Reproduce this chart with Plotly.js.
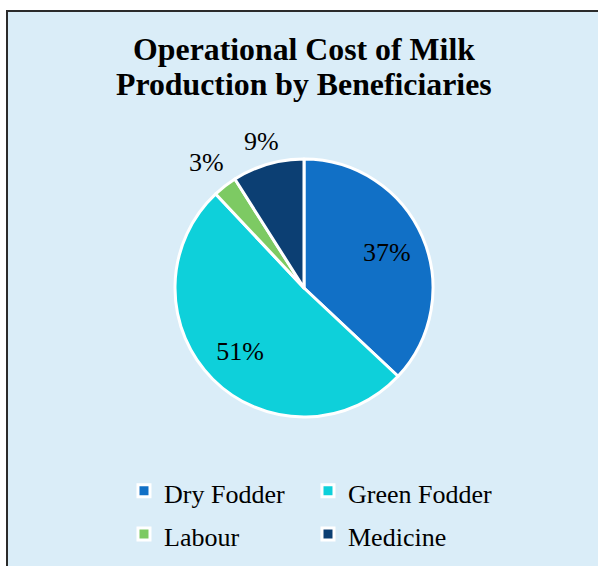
<!DOCTYPE html>
<html><head><meta charset="utf-8">
<script src="https://cdn.plot.ly/plotly-3.0.1.min.js"></script>
<style>
html,body{margin:0;padding:0;background:#ffffff;}
#frame{position:absolute;left:6px;top:10px;width:620px;height:620px;border:2px solid #2b2b2b;background:#DAEDF8;}
#chart{position:absolute;left:0;top:0;width:598px;height:566px;}
</style></head>
<body>
<div id="frame"></div>
<div id="chart"></div>
<script>
const categories = ["Dry Fodder", "Green Fodder", "Labour", "Medicine"];
const shares = [37, 51, 3, 9];
const colors = ["#1170C6", "#0ED0DA", "#7DCA63", "#0C3F73"];
const outsideLabel = [false, false, true, true];

const FONT = "Liberation Serif, Times New Roman, serif";
const W = 598, H = 566, ML = 100, MR = 100;
const plotW = W - ML - MR, plotH = H;
const domain = {x: [0.1884, 0.8367], y: [0.2633, 0.7191]};

// main pie: slices and legend
const mainPie = {
  type: "pie",
  labels: categories.map(c => '<span style="font-size:26px">' + c + '</span>'),
  values: shares,
  sort: false,
  direction: "clockwise",
  rotation: 0,
  marker: {colors: colors, line: {color: "#ffffff", width: 3}},
  textinfo: "none",
  domain: domain,
  hoverinfo: "skip"
};

// transparent ring overlay: places the inside labels at mid-ring radius
const labelRing = {
  type: "pie",
  labels: categories,
  values: shares,
  sort: false,
  direction: "clockwise",
  rotation: 0,
  hole: 0.4,
  showlegend: false,
  marker: {colors: categories.map(() => "rgba(0,0,0,0)"), line: {width: 0}},
  texttemplate: "%{percent:.0%}",
  textposition: outsideLabel.map(o => o ? "none" : "inside"),
  insidetextorientation: "horizontal",
  textfont: {family: FONT, size: 26, color: "#000000"},
  domain: domain,
  hoverinfo: "skip"
};

// outside labels for the small slices, placed from each slice's mid-angle
const total = shares.reduce((a, b) => a + b, 0);
const cxPx = ML + plotW * (domain.x[0] + domain.x[1]) / 2;
const cyPx = H - plotH * (domain.y[0] + domain.y[1]) / 2;
const R = Math.min(plotW * (domain.x[1] - domain.x[0]), plotH * (domain.y[1] - domain.y[0])) / 2;
const outsideAnnotations = [];
let cum = 0;
shares.forEach((v, i) => {
  const mid = (cum + v / 2) / total * 2 * Math.PI;
  cum += v;
  if (!outsideLabel[i]) return;
  const sx = Math.sin(mid), sy = -Math.cos(mid);
  const dist = R + 6 + 24 * Math.abs(sx) + 11 * Math.abs(sy);
  const px = cxPx + dist * sx, py = cyPx + dist * sy;
  outsideAnnotations.push({
    text: Math.round(v / total * 100) + "%",
    xref: "paper", yref: "paper",
    x: (px - ML) / plotW, y: 1 - py / plotH,
    xanchor: "center", yanchor: "middle", showarrow: false,
    font: {family: FONT, size: 26, color: "#000000"}
  });
});

const layout = {
  width: W, height: H,
  margin: {l: ML, r: MR, t: 0, b: 0},
  paper_bgcolor: "rgba(0,0,0,0)",
  plot_bgcolor: "rgba(0,0,0,0)",
  font: {family: FONT, color: "#000000"},
  title: {
    text: "<b>Operational Cost of Milk</b>",
    font: {family: FONT, size: 31.8, color: "#000000"},
    x: 0.5084, xanchor: "center", y: 0.9134, yanchor: "middle"
  },
  annotations: [{
    text: "<b>Production by Beneficiaries</b>",
    font: {family: FONT, size: 31.8, color: "#000000"},
    xref: "paper", yref: "paper", x: (304 - ML) / plotW, y: 0.8499,
    xanchor: "center", yanchor: "middle", showarrow: false
  }].concat(outsideAnnotations),
  showlegend: true,
  legend: {
    orientation: "h",
    x: 0.0603, xanchor: "left", y: 0.180, yanchor: "top",
    entrywidth: 139, entrywidthmode: "pixels",
    font: {family: FONT, size: 31, color: "#000000"},
    bgcolor: "rgba(0,0,0,0)",
    traceorder: "normal"
  }
};

Plotly.newPlot("chart", [mainPie, labelRing], layout, {displayModeBar: false, staticPlot: true});
</script>
</body></html>
